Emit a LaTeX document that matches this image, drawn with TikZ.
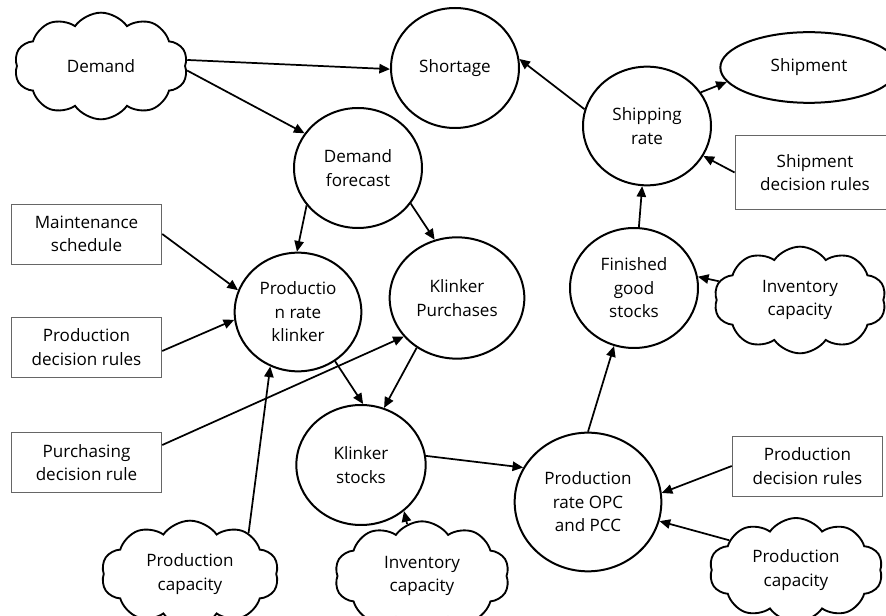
\documentclass[tikz,border=0pt]{standalone}
\usepackage{fontspec}
\setmainfont{Open Sans}
\usetikzlibrary{shapes.geometric,shapes.symbols,arrows.meta}

\tikzset{every picture/.style={line width=0.75pt}}
\tikzset{
  stock/.style={draw,ellipse,line width=1.5pt,inner sep=0pt,align=center,minimum width=96pt,minimum height=90pt},
  rulebox/.style={draw=black!60,line width=0.6pt,rectangle,inner sep=0pt,align=center,minimum width=113pt,minimum height=45pt},
  source/.style={draw,cloud,cloud puffs=10,cloud puff arc=110,cloud ignores aspect,line width=1.4pt,inner sep=0pt,align=center},
  flow/.style={-{Triangle[length=8pt,width=7pt]},line width=1.3pt},
}

\begin{document}
\begin{tikzpicture}[x=0.75pt,y=0.75pt,yscale=-1,xscale=1,every node/.style={font=\fontsize{12.8}{17.6}\selectfont}]
\useasboundingbox (0,0) rectangle (886,616);

%Shape: Clouds
\node [source,minimum width=130pt,minimum height=80pt] (demand) at (101,66) {Demand};
\node [source,minimum width=129pt,minimum height=80pt] (invcapr) at (800,300) {Inventory\\capacity};
\node [source,minimum width=133pt,minimum height=80pt] (prodcapl) at (190,574) {Production\\capacity};
\node [source,minimum width=131pt,minimum height=82pt] (invcapm) at (422,576) {Inventory\\capacity};
\node [source,minimum width=130pt,minimum height=78pt] (prodcapr) at (796,570) {Production\\capacity};

%Shape: Ellipses
\node [stock] (shortage) at (455,68) {Shortage};
\node [stock,minimum width=133pt,minimum height=53pt] (shipment) at (809,67.5) {Shipment};
\node [stock,minimum height=89pt] (shiprate) at (647,126) {Shipping\\rate};
\node [stock] (forecast) at (358,168) {Demand\\forecast};
\node [stock,minimum width=95pt,minimum height=89pt] (prodklk) at (298,312) {Productio\\n rate\\klinker};
\node [stock,minimum width=101pt,minimum height=91pt] (purch) at (457,298) {Klinker\\Purchases};
\node [stock] (finished) at (634,288) {Finished\\good\\stocks};
\node [stock,minimum width=97pt] (klkstock) at (361,465) {Klinker\\stocks};
\node [stock,minimum width=110pt,minimum height=104pt] (prodopc) at (588,502) {Production\\rate OPC\\and PCC};

%Shape: Rectangles
\node [rulebox,minimum width=120pt,minimum height=55pt] (shiprule) at (815,172.5) {Shipment\\decision rules};
\node [rulebox] (maint) at (86.5,234) {Maintenance\\schedule};
\node [rulebox] (prodrulel) at (86.5,347) {Production\\decision rules};
\node [rulebox] (purchrule) at (86.5,462.5) {Purchasing\\decision rule};
\node [rulebox] (prodruler) at (807.5,466) {Production\\decision rules};

%Straight Lines
\draw [flow] (demand.4) -- (shortage.181);
\draw [flow] (demand.-3) -- (forecast.147);
\draw [flow] (shiprate.165) -- (shortage.8);
\draw [flow] (shiprate.32) -- (shipment.190);
\draw [flow] (shiprule.west) -- (shiprate.-28);
\draw [flow] (finished) -- (shiprate);
\draw [flow] (invcapr.167) -- (finished.10);
\draw [flow] (forecast.216) -- (prodklk.91);
\draw [flow] (forecast.-34) -- (purch.111);
\draw [flow] (maint.east) -- (prodklk.160);
\draw [flow] (prodrulel.-3) -- (prodklk.187);
\draw [flow] (purchrule.13) -- (purch.216);
\draw [flow] (prodcapl.35) -- (prodklk.243);
\draw [flow] (prodklk.-53) -- (klkstock.88);
\draw [flow] (purch.231) -- (klkstock.68);
\draw [flow] (invcapm.106) -- (klkstock.-47);
\draw [flow] (klkstock.8) -- (prodopc.152);
\draw [flow] (prodopc.90) -- (finished.251);
\draw [flow] (prodruler.west) -- (prodopc.7);
\draw [flow] (prodcapr.156) -- (prodopc.-15);

\end{tikzpicture}
\end{document}
